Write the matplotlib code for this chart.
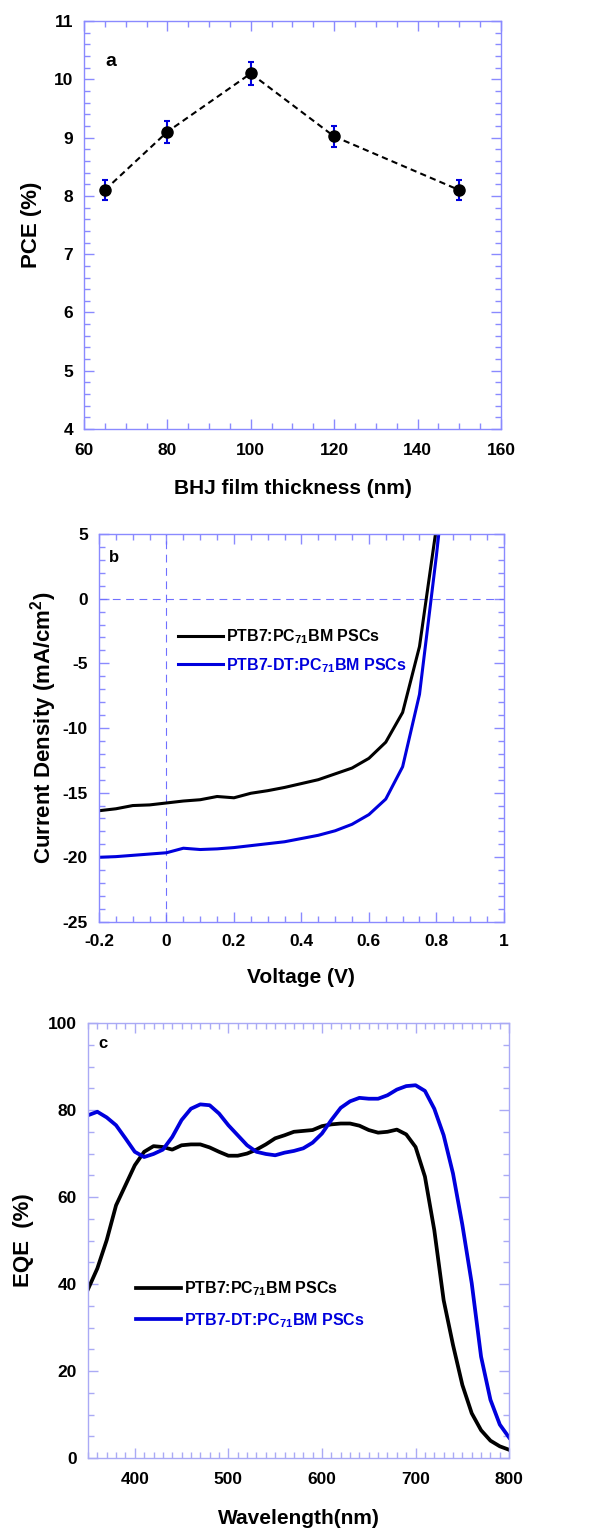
import numpy as np
import matplotlib
matplotlib.use("Agg")
import matplotlib.pyplot as plt
from matplotlib.ticker import MultipleLocator

plt.rcParams['font.family'] = ['Liberation Sans', 'DejaVu Sans']
plt.rcParams['font.weight'] = 'bold'
plt.rcParams['axes.labelweight'] = 'bold'
plt.rcParams['axes.unicode_minus'] = False
plt.rcParams['mathtext.fontset'] = 'custom'
plt.rcParams['mathtext.rm'] = 'Liberation Sans:bold'
plt.rcParams['mathtext.bf'] = 'Liberation Sans:bold'
plt.rcParams['mathtext.default'] = 'bf'

# panel a: PCE vs film thickness
thickness = [65, 80, 100, 120, 150]
pce = [8.1, 9.1, 10.1, 9.02, 8.1]
pce_err = [0.17, 0.19, 0.2, 0.18, 0.17]

# panel b: J-V curves
voltage = [-0.2, -0.15, -0.1, -0.05, 0.0, 0.05, 0.1, 0.15, 0.2, 0.25, 0.3, 0.35,
           0.4, 0.45, 0.5, 0.55, 0.6, 0.65, 0.7, 0.75, 0.8]
j_ptb7 = [-16.4, -16.25, -16.0, -15.95, -15.8, -15.65, -15.55, -15.3, -15.4, -15.05,
          -14.85, -14.6, -14.3, -14.0, -13.55, -13.1, -12.35, -11.1, -8.8, -3.7, 5.5]
voltage_dt = [-0.2, -0.15, -0.1, -0.05, 0.0, 0.05, 0.1, 0.15, 0.2, 0.25, 0.3, 0.35,
              0.4, 0.45, 0.5, 0.55, 0.6, 0.65, 0.7, 0.75, 0.8, 0.82]
j_dt = [-20.0, -19.95, -19.85, -19.75, -19.65, -19.3, -19.4, -19.35, -19.25, -19.1,
        -18.95, -18.8, -18.55, -18.3, -17.95, -17.45, -16.7, -15.5, -13.0, -7.4, 3.3, 8.0]
v_ticks = [-0.2, 0, 0.2, 0.4, 0.6, 0.8, 1]
v_labels = ["-0.2", "0", "0.2", "0.4", "0.6", "0.8", "1"]

# panel c: EQE spectra
wavelength = list(range(350, 801, 10))
eqe_ptb7 = [38.8, 43.6, 50.1, 58.1, 62.7, 67.3, 70.4, 71.7, 71.5, 70.9, 71.9, 72.1, 72.1,
            71.4, 70.4, 69.5, 69.5, 70.0, 70.9, 72.1, 73.5, 74.2, 75.0, 75.2, 75.4, 76.3,
            76.7, 76.9, 76.9, 76.4, 75.4, 74.8, 75.0, 75.5, 74.4, 71.5, 64.7, 52.4, 36.3,
            26.0, 16.8, 10.3, 6.4, 4.0, 2.7, 1.9]
eqe_dt = [78.8, 79.6, 78.3, 76.5, 73.5, 70.4, 69.2, 69.9, 70.9, 73.8, 77.7, 80.3, 81.3,
          81.1, 79.2, 76.5, 74.2, 71.9, 70.4, 69.9, 69.6, 70.2, 70.6, 71.2, 72.5, 74.6,
          77.7, 80.5, 82.0, 82.8, 82.6, 82.6, 83.4, 84.7, 85.5, 85.7, 84.4, 80.3, 74.2,
          65.4, 53.6, 40.2, 23.3, 13.4, 7.7, 4.7]

lbl_ptb7 = r"PTB7:PC$_{71}$BM PSCs"
lbl_dt = r"PTB7-DT:PC$_{71}$BM PSCs"
blue = '#0000dd'


def style(ax, edge):
    for s in ax.spines.values():
        s.set_color(edge)
        s.set_linewidth(1.0)
    ax.tick_params(which='both', direction='in', top=True, right=True,
                   color=edge, labelsize=12.5, pad=8)
    ax.tick_params(which='major', length=7, width=1)
    ax.tick_params(which='minor', length=4, width=1)


fig = plt.figure(figsize=(6.06, 15.34), dpi=100)

# ---- a ----
ax1 = fig.add_axes([0.1386, 0.7203, 0.688, 0.266])
ax1.plot(thickness, pce, color='black', linestyle=(0, (3, 2)), lw=1.5)
ax1.errorbar(thickness, pce, yerr=pce_err, fmt='none', ecolor=blue,
             elinewidth=1.5, capsize=2.5, capthick=1.5)
ax1.plot(thickness, pce, 'o', color='black', ms=8)
ax1.set_xlim(60, 160)
ax1.set_ylim(4, 11)
ax1.xaxis.set_major_locator(MultipleLocator(20))
ax1.xaxis.set_minor_locator(MultipleLocator(5))
ax1.yaxis.set_major_locator(MultipleLocator(1))
ax1.yaxis.set_minor_locator(MultipleLocator(0.2))
style(ax1, '#8a8aff')
ax1.tick_params(axis='x', pad=10)
ax1.set_xlabel("BHJ film thickness (nm)", fontsize=15, va='center')
ax1.set_ylabel("PCE (%)", fontsize=16, va='center')
ax1.xaxis.set_label_coords(0.5, -0.145)
ax1.yaxis.set_label_coords(-0.127, 0.5)
ax1.text(0.065, 0.9, "a", transform=ax1.transAxes, fontsize=14,
         ha='center', va='center')

# ---- b ----
ax2 = fig.add_axes([0.1634, 0.399, 0.668, 0.2529])
ax2.axvline(0, color='#7070ff', lw=0.8, linestyle=(0, (7, 5)))
ax2.axhline(0, color='#7070ff', lw=0.8, linestyle=(0, (7, 5)))
ax2.plot(voltage, j_ptb7, color='black', lw=2.2, label=lbl_ptb7)
ax2.plot(voltage_dt, j_dt, color=blue, lw=2.2, label=lbl_dt)
ax2.set_xlim(-0.2, 1)
ax2.set_ylim(-25, 5)
ax2.set_xticks(v_ticks, v_labels)
ax2.xaxis.set_minor_locator(MultipleLocator(0.05))
ax2.yaxis.set_major_locator(MultipleLocator(5))
ax2.yaxis.set_minor_locator(MultipleLocator(1))
style(ax2, '#8a8aff')
ax2.tick_params(axis='x', pad=9)
ax2.set_xlabel("Voltage (V)", fontsize=15, va='center')
ax2.set_ylabel(r"Current Density (mA/cm$^{2}$)", fontsize=16, va='center')
ax2.xaxis.set_label_coords(0.5, -0.144)
ax2.yaxis.set_label_coords(-0.136, 0.5)
ax2.text(0.037, 0.94, "b", transform=ax2.transAxes, fontsize=12,
         ha='center', va='center')
ax2.legend(loc='upper left', bbox_to_anchor=(0.18, 0.775), frameon=False,
           fontsize=11.5, handlelength=2.8, handletextpad=0.2, labelspacing=0.6,
           labelcolor=['black', blue], borderaxespad=0)

# ---- c ----
ax3 = fig.add_axes([0.1452, 0.0495, 0.695, 0.2836])
ax3.plot(wavelength, eqe_ptb7, color='black', lw=2.7, label=lbl_ptb7)
ax3.plot(wavelength, eqe_dt, color=blue, lw=2.7, label=lbl_dt)
ax3.set_xlim(350, 800)
ax3.set_ylim(0, 100)
ax3.set_xticks([400, 500, 600, 700, 800])
ax3.xaxis.set_minor_locator(MultipleLocator(10))
ax3.yaxis.set_major_locator(MultipleLocator(20))
ax3.yaxis.set_minor_locator(MultipleLocator(5))
style(ax3, '#aaaaf5')
ax3.tick_params(axis='x', pad=10)
ax3.set_xlabel("Wavelength(nm)", fontsize=15, va='center')
ax3.set_ylabel("EQE  (%)", fontsize=16, va='center')
ax3.xaxis.set_label_coords(0.5, -0.138)
ax3.yaxis.set_label_coords(-0.154, 0.5)
ax3.text(0.036, 0.952, "c", transform=ax3.transAxes, fontsize=12,
         ha='center', va='center')
ax3.legend(loc='upper left', bbox_to_anchor=(0.1, 0.425), frameon=False,
           fontsize=11.5, handlelength=2.8, handletextpad=0.2, labelspacing=0.8,
           labelcolor=['black', blue], borderaxespad=0)

fig.savefig("out.png", dpi=100)
